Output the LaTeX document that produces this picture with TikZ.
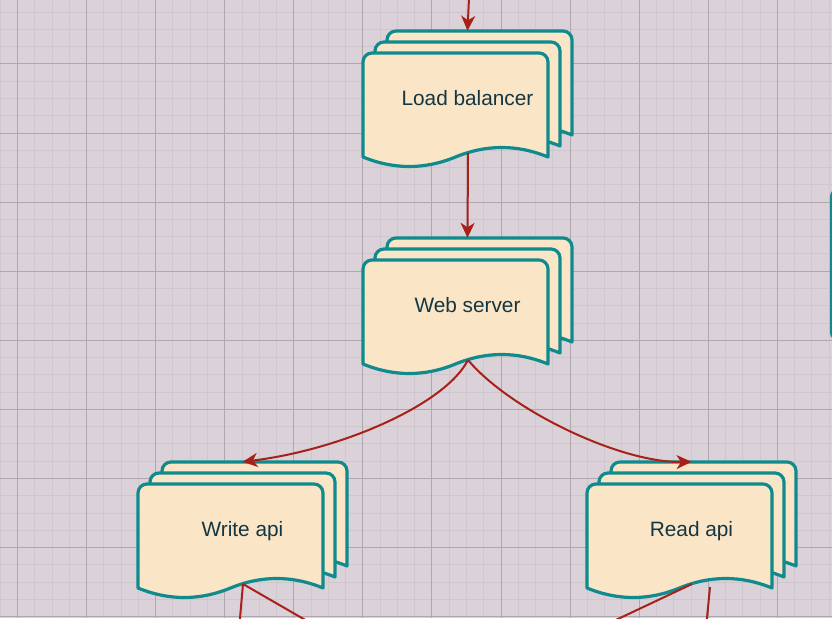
\documentclass[tikz,border=0pt]{standalone}
\usepackage{fontspec}
\setmainfont{Liberation Sans}
\usetikzlibrary{arrows.meta}
\definecolor{bgcol}{HTML}{DAD2D8}
\definecolor{gridminor}{HTML}{D0C7CE}
\definecolor{gridmajor}{HTML}{B0A6AE}
\definecolor{docfill}{HTML}{FAE5C7}
\definecolor{docline}{HTML}{0F8B8D}
\definecolor{doctext}{HTML}{143642}
\definecolor{edgecol}{HTML}{A8201A}
\tikzset{
  minorline/.style={draw=gridminor, line width=1pt},
  majorline/.style={draw=gridmajor, line width=1pt},
  sheet/.style={draw=docline, fill=docfill, line width=3.2pt, line join=round},
  doclabel/.style={minimum width=209pt, minimum height=135pt, inner sep=0pt,
    text=doctext, font=\fontsize{20.8}{25}\selectfont, text height=14.9pt, text depth=0pt},
  edge/.style={draw=edgecol, line width=2pt, -{Stealth[length=15pt, width=14pt, inset=4.5pt]}},
  edgeline/.style={draw=edgecol, line width=2pt},
}
% one sheet of a multi-document: #1 = left x, #2 = top y
\newcommand{\mdsheet}[2]{%
  \path[sheet] (#1,#2+104) -- (#1,#2+9)
    .. controls (#1,#2+4) and (#1+4,#2) .. (#1+9,#2)
    -- (#1+176,#2)
    .. controls (#1+181,#2) and (#1+185,#2+4) .. (#1+185,#2+9)
    -- (#1+185,#2+104)
    .. controls (#1+154.17,#2+91.33) and (#1+123.33,#2+91.33) .. (#1+92.5,#2+104)
    .. controls (#1+61.67,#2+116.67) and (#1+30.83,#2+116.67) .. (#1,#2+104)
    -- cycle;}
% multi-document: #1 name, #2 front left x, #3 front top y, #4 text
\newcommand{\mdoc}[4]{%
  \mdsheet{#2+24}{#3-22}
  \mdsheet{#2+12}{#3-11}
  \mdsheet{#2}{#3}
  \node[doclabel] (#1) at (#2+104.5,#3+45.5) {#4};
  \coordinate (#1-out) at (#2+105,#3+100);}
\begin{document}
\begin{tikzpicture}[x=1pt, y=-1pt]
\useasboundingbox (0,0) rectangle (832,618);
\clip (0,0) rectangle (832,618);
\fill[bgcol] (0,0) rectangle (832,618);
% grid
\foreach \i in {0,...,48} \draw[minorline] ({0.23+17.27*\i},0) -- ({0.23+17.27*\i},618);
\foreach \j in {1,...,36} \draw[minorline] (0,{-5.08+17.27*\j}) -- (832,{-5.08+17.27*\j});
\foreach \k in {0,...,11} \draw[majorline] ({17.5+69.08*\k},0) -- ({17.5+69.08*\k},618);
\foreach \k in {1,...,9} \draw[majorline] (0,{-5.08+69.08*\k}) -- (832,{-5.08+69.08*\k});

% partial shape at right edge
\draw[sheet, rounded corners=8pt] (831.5,189) rectangle (900,340);

% documents
\mdoc{lb}{363}{53}{Load balancer}
\mdoc{ws}{363}{260}{Web server}
\mdoc{wa}{138}{484}{Write api}
\mdoc{ra}{587}{484}{Read api}

% free ends
\coordinate (topin) at (469,-2);
\coordinate (wa-d1) at (239.4,625);
\coordinate (wa-d2) at (314,625);
\coordinate (ra-s2) at (710,587);
\coordinate (ra-d1) at (605.2,625);
\coordinate (ra-d2) at (706.3,625);

% connectors
\draw[edge] (topin) -- (lb.north);
\draw[edge] (lb-out) -- (ws.north);
\draw[edge] (ws-out) .. controls (445,405) and (340,450) .. (wa.north);
\draw[edge] (ws-out) .. controls (510,410) and (620,463) .. (ra.north);
\draw[edgeline] (wa-out) -- (wa-d1);
\draw[edgeline] (wa-out) -- (wa-d2);
\draw[edgeline] (ra-out) -- (ra-d1);
\draw[edgeline] (ra-s2) -- (ra-d2);
\end{tikzpicture}
\end{document}
